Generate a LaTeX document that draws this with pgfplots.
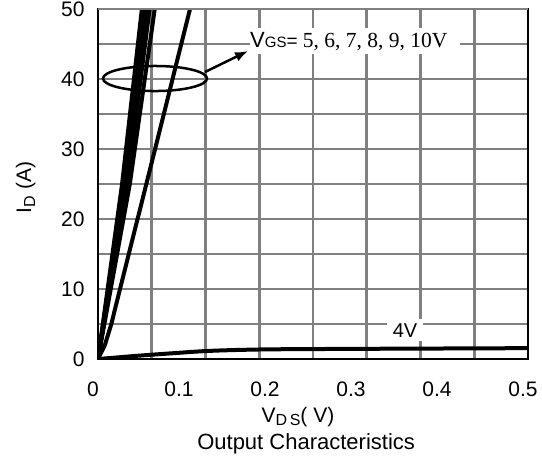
\documentclass[border=0pt]{standalone}
\usepackage{pgfplots}
\pgfplotsset{compat=1.18}
\usepackage{fontspec}
\setmainfont{Liberation Sans}
\newfontfamily\serif{Liberation Serif}
\usetikzlibrary{calc,arrows.meta}
\definecolor{gridgray}{RGB}{128,128,128}
\begin{document}
\begin{tikzpicture}
\begin{axis}[name=ax, scale only axis, width=430pt, height=350pt,
  xmin=0, xmax=0.5, ymin=0, ymax=50,
  xtick={0,0.1,0.2,0.3,0.4,0.5},
  xticklabels={0,\raisebox{-4pt}{0.1},0.2,0.3,0.4,0.5},
  ytick={0,10,20,30,40,50},
  yticklabels={0,10,20,30,40,50},
  minor xtick={0.0625,0.125,0.1875,0.25,0.3125,0.375,0.4375},
  minor ytick={5,15,25,35,45},
  xmajorgrids=false, xminorgrids=true, ymajorgrids=true, yminorgrids=true,
  grid style={gridgray, line width=2.6pt},
  minor grid style={gridgray, line width=2.6pt},
  major tick length=0pt, minor tick length=0pt,
  axis line style={black, line width=2.6pt},
  /pgf/number format/assume math mode=true,
  tick label style={font=\fontsize{21}{21}\selectfont},
  yticklabel style={xshift=-10pt},
  xticklabel style={yshift=-19pt, xshift=-5pt},
  xlabel={V\raisebox{-3pt}{\fontsize{16}{16}\selectfont D\,S}( V)},
  xlabel style={font=\fontsize{21}{21}\selectfont, at={(axis description cs:0.465,-0.167)}, anchor=center},
  ylabel={I\raisebox{-4pt}{\fontsize{16}{16}\selectfont D} (A)},
  ylabel style={font=\fontsize{21}{21}\selectfont, at={(axis description cs:-0.168,0.49)}, anchor=center},
  title={Output Characteristics},
  title style={font=\fontsize{22}{22}\selectfont, at={(axis description cs:0.484,-0.26)}, anchor=center},
]
% VGS = 10 V
\addplot[black, line width=4pt] coordinates {(0,0) (0.028,25) (0.051,50) (0.0556,55)};
% VGS = 9 V
\addplot[black, line width=4pt] coordinates {(0,0) (0.030,25) (0.054,50) (0.0588,55)};
% VGS = 8 V
\addplot[black, line width=4pt] coordinates {(0,0) (0.032,25) (0.057,50) (0.062,55)};
% VGS = 7 V
\addplot[black, line width=4pt] coordinates {(0,0) (0.034,25) (0.060,50) (0.0652,55)};
% VGS = 6 V
\addplot[black, line width=4pt] coordinates {(0,0) (0.037,25) (0.066,50) (0.0718,55)};
% VGS = 5 V
\addplot[black, line width=4pt] coordinates {(0,0) (0.008,2) (0.0155,5) (0.0256,10) (0.046,20) (0.0664,30) (0.0867,40) (0.107,50) (0.113,53)};
% VGS = 4 V
\addplot[black, line width=4pt, smooth] coordinates {(0,0) (0.02,0.2) (0.05,0.5) (0.09,0.85) (0.12,1.1) (0.15,1.25) (0.2,1.38) (0.3,1.45) (0.4,1.5) (0.5,1.55)};
% top border grey
\draw[gridgray, line width=2.6pt] (rel axis cs:0,1) -- (rel axis cs:1,1);
% annotations
\draw[black, line width=2.5pt] (axis cs:0.0663,40.07) ellipse [x radius=0.0605, y radius=1.79];
\draw[black, line width=2.5pt, -{Latex[length=13pt,width=10pt]}] (axis cs:0.1244,41.0) -- (axis cs:0.1745,44.0);
\node[fill=white, anchor=west, inner xsep=0pt, inner ysep=4pt] at (axis cs:0.1767,45.4)
  {{\fontsize{22}{22}\selectfont V}{\fontsize{15}{15}\selectfont GS}{\fontsize{19}{19}\selectfont =}{\serif\fontsize{21.5}{21.5}\selectfont\ 5, 6, 7, 8, 9, 10V}\hspace*{12pt}};
\node[fill=white, inner xsep=6pt, inner ysep=4pt, font=\fontsize{20}{20}\selectfont] at (axis cs:0.357,4.1) {4V};
\end{axis}
\pgfresetboundingbox
\path ($(ax.south west)+(-98pt,-107pt)$) rectangle ($(ax.north east)+(14pt,9pt)$);
\end{tikzpicture}
\end{document}
